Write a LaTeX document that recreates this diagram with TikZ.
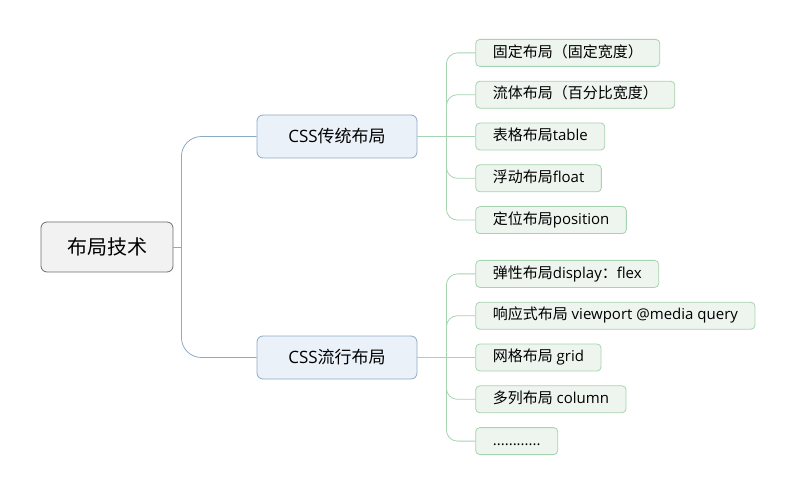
\documentclass[tikz,border=0pt]{standalone}
\usepackage{fontspec}
\setmainfont{Open Sans}
\newfontfamily\cjk{Noto Sans CJK SC}
\usepackage{xcolor}
\usetikzlibrary{positioning}
\definecolor{rootfill}{HTML}{F2F2F2}
\definecolor{rootline}{HTML}{6E6E6E}
\definecolor{midfill}{HTML}{EAF1F9}
\definecolor{midline}{HTML}{8EA9C6}
\definecolor{leaffill}{HTML}{EEF5EF}
\definecolor{leafline}{HTML}{A6D3B0}
\newcommand{\zh}[1]{{\cjk #1}}

\begin{document}
\begin{tikzpicture}[x=1pt, y=-1pt, node distance=14pt,
  rootbox/.style={draw=rootline, fill=rootfill, rounded corners=6pt, line width=0.8pt,
    minimum width=132pt, minimum height=50pt, font=\fontsize{20}{24}\selectfont},
  midbox/.style={draw=midline, fill=midfill, rounded corners=6pt, line width=0.8pt,
    minimum width=160pt, minimum height=43pt, font=\fontsize{17}{20}\selectfont},
  leafbox/.style={draw=leafline, fill=leaffill, rounded corners=4pt, line width=0.8pt,
    minimum height=27pt, inner xsep=17pt, text height=11.5pt, text depth=3pt,
    font=\fontsize{15}{18}\selectfont},
  midlink/.style={draw=midline, line width=0.8pt, rounded corners=20pt},
  leaflink/.style={draw=leafline, line width=0.8pt, rounded corners=11pt}]
\useasboundingbox (0,0) rectangle (800,494);

% root and the two branches
\node (root) [rootbox] at (107,247) {\zh{布局技术}};
\node (trad) [midbox] at (337,136.5) {CSS\zh{传统布局}};
\node (mod) [midbox] at (337,357.5) {CSS\zh{流行布局}};
\coordinate[right=8pt of root] (rj);
\draw[midlink] (root.east) -- (rj);
\draw[midlink] (rj) |- (trad.west);
\draw[midlink] (rj) |- (mod.west);

% CSS传统布局
\node (t3) [leafbox, right=58pt of trad] {\zh{表格布局}table};
\node (t2) [leafbox, above right=14pt and 0pt of t3.north west] {\zh{流体布局（百分比宽度）}};
\node (t1) [leafbox, above right=14pt and 0pt of t2.north west] {\zh{固定布局（固定宽度）}};
\node (t4) [leafbox, below right=14pt and 0pt of t3.south west] {\zh{浮动布局}float};
\node (t5) [leafbox, below right=14pt and 0pt of t4.south west] {\zh{定位布局}position};
\coordinate[right=29pt of trad] (tj);
\draw[leaflink] (trad.east) -- (t3.west);
\foreach \n in {t1,t2,t4,t5}
  \draw[leaflink] (tj) |- (\n.west);

% CSS流行布局
\node (m3) [leafbox, right=58pt of mod] {\zh{网格布局} grid};
\node (m2) [leafbox, above right=14pt and 0pt of m3.north west] {\zh{响应式布局} viewport @media query};
\node (m1) [leafbox, above right=14pt and 0pt of m2.north west] {\zh{弹性布局}display\zh{：}flex};
\node (m4) [leafbox, below right=14pt and 0pt of m3.south west] {\zh{多列布局} column};
\node (m5) [leafbox, below right=14pt and 0pt of m4.south west] {............};
\coordinate[right=29pt of mod] (mj);
\draw[leaflink] (mod.east) -- (m3.west);
\foreach \n in {m1,m2,m4,m5}
  \draw[leaflink] (mj) |- (\n.west);
\end{tikzpicture}
\end{document}
